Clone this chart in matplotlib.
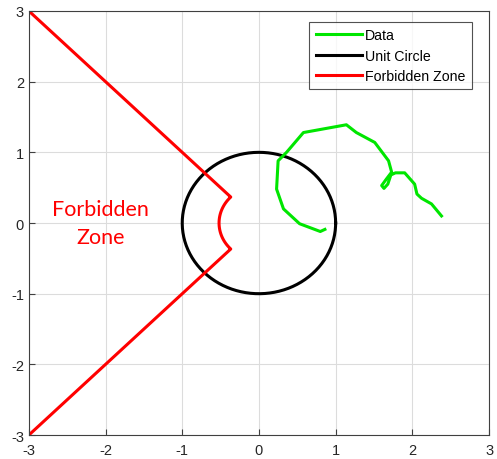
import numpy as np
import matplotlib.pyplot as plt

plt.rcParams['font.family'] = ['Liberation Sans', 'DejaVu Sans']
plt.rcParams['axes.unicode_minus'] = False

# trajectory points
data_x = [0.86, 0.80, 0.53, 0.32, 0.23, 0.25, 0.36, 0.58, 1.14, 1.27, 1.51, 1.69,
          1.73, 1.66, 1.60, 1.63, 1.68, 1.72, 1.78, 1.90, 2.03, 2.06, 2.12, 2.25, 2.38]
data_y = [-0.09, -0.12, -0.01, 0.20, 0.48, 0.88, 1.00, 1.28, 1.39, 1.28, 1.14, 0.88,
          0.72, 0.62, 0.53, 0.49, 0.55, 0.68, 0.71, 0.71, 0.55, 0.41, 0.35, 0.27, 0.10]

# forbidden boundary: two diagonals joined by an arc about the origin
zone_r = 0.52
zone_corner = 3.0
zone_ang = np.deg2rad(np.linspace(135, 225, 30))

ticks = [-3, -2, -1, 0, 1, 2, 3]

fig = plt.figure(figsize=(4.97, 4.6), dpi=100)
ax = fig.add_axes([0.058, 0.052, 0.926, 0.922])

ax.plot(data_x, data_y, color='#00e600', lw=2.2, label='Data', zorder=3)

t = np.linspace(0, 2 * np.pi, 300)
ax.plot(np.cos(t), np.sin(t), color='black', lw=2.2, label='Unit Circle', zorder=2)

zx = np.concatenate([[-zone_corner], zone_r * np.cos(zone_ang), [-zone_corner]])
zy = np.concatenate([[zone_corner], zone_r * np.sin(zone_ang), [-zone_corner]])
ax.plot(zx, zy, color='#ff0000', lw=2.2, label='Forbidden Zone', zorder=2)

ax.text(-2.07, 0.0, 'Forbidden\nZone', color='#ff0000', fontsize=15.5,
        ha='center', va='center', linespacing=1.5, family=['Lato', 'DejaVu Sans'])

ax.set_xlim(-3, 3)
ax.set_ylim(-3, 3)
ax.set_xticks(ticks)
ax.set_yticks(ticks)
ax.grid(True, color='#dcdcdc', lw=0.8)
ax.set_axisbelow(True)
ax.tick_params(direction='in', length=4, labelsize=10.5, color='#404040', labelcolor='#262626')
ax.tick_params(axis='x', pad=6)
for s in ax.spines.values():
    s.set_color('#404040')
    s.set_linewidth(0.8)

leg = ax.legend(loc='upper right', bbox_to_anchor=(0.963, 0.974), fontsize=10.2,
                frameon=True, fancybox=False, edgecolor='#262626', handlelength=3.3,
                handletextpad=0.2, borderpad=0.45, labelspacing=0.45, borderaxespad=0)
leg.get_frame().set_linewidth(0.8)

fig.savefig('out.png', dpi=100)
